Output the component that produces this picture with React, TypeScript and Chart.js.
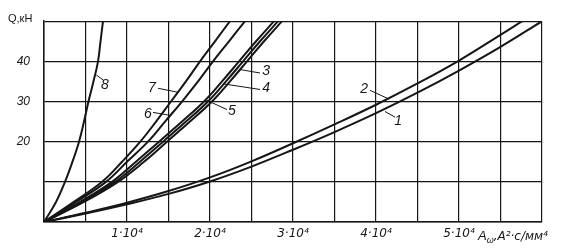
import React, { useEffect, useRef } from 'react';
import { Chart, registerables } from 'chart.js';

Chart.register(...registerables);

// Load levels Q, kN (used for the steep curves 3-8)
const qLevels = [0, 5, 10, 15, 20, 25, 30, 35, 40, 45, 50];
// A values (A^2·c/mm^4) at each Q level
const curve8A = [0, 1450, 2530, 3430, 4220, 4820, 5360, 5960, 6510, 6810, 7110];
const curve7A = [0, 3600, 7000, 9400, 11600, 13500, 15300, 17100, 18800, 20600, 22400];
const curve6A = [0, 3860, 7470, 10000, 12530, 14580, 16630, 18560, 20360, 22290, 24220];
const curve5A = [0, 4340, 8190, 11080, 13860, 16630, 19280, 21450, 23500, 25550, 27710];
const curve4A = [0, 4580, 8560, 11570, 14340, 17110, 19760, 21930, 23980, 26030, 28200];
const curve3A = [0, 4820, 8920, 12050, 14820, 17590, 20240, 22410, 24460, 26510, 28680];

// Curves 1 and 2: Q read at A positions
const curve2A = [0, 5000, 10000, 15000, 20000, 25000, 30000, 35000, 40000, 45000, 50000, 55000, 57600];
const curve2Q = [0, 2.3, 4.8, 7.7, 11.1, 15.1, 19.6, 24.3, 29.2, 34.5, 40.2, 46.6, 50];
const curve1A = [0, 5000, 10000, 15000, 20000, 25000, 30000, 35000, 40000, 45000, 50000, 55000, 60000];
const curve1Q = [0, 2.1, 4.4, 7.0, 10.1, 13.8, 18.0, 22.4, 27.1, 32.2, 37.7, 43.6, 50];

const curveNames = ['8', '7', '6', '5', '4', '3', '2', '1'];

const xTickLabels = ['1·10⁴', '2·10⁴', '3·10⁴', '4·10⁴', '5·10⁴'];
const yTickLabels = ['20', '30', '40'];

// curve number labels with leader lines, in data coordinates
const curveLabelText = ['8', '7', '6', '3', '4', '5', '2', '1'];
const curveLabelAt = [
  [7350, 34.0], [13010, 33.4], [12530, 26.8], [26750, 37.6],
  [26750, 33.3], [22650, 27.5], [38560, 33.0], [42660, 25.1],
];
const leaderFrom = [
  [7110, 35.4], [13740, 33.3], [13130, 27.3], [26030, 37.1],
  [26030, 33.0], [22050, 28.0], [39280, 32.8], [42300, 26.1],
];
const leaderTo = [
  [6300, 36.6], [16150, 32.3], [15060, 26.6], [23500, 38.0],
  [21600, 34.4], [19500, 30.4], [41570, 30.6], [41090, 27.5],
];

function pairs(xs: number[], ys: number[]) {
  return xs.map((x, i) => ({ x, y: ys[i] }));
}

export default function App() {
  const ref = useRef<HTMLCanvasElement | null>(null);

  useEffect(() => {
    if (!ref.current) return;
    const ink = '#161616';
    const steep = [curve8A, curve7A, curve6A, curve5A, curve4A, curve3A];
    const datasets: any[] = steep.map((a, i) => ({
      label: curveNames[i],
      data: pairs(a, qLevels),
    }));
    datasets.push({ label: '2', data: pairs(curve2A, curve2Q) });
    datasets.push({ label: '1', data: pairs(curve1A, curve1Q) });
    datasets.forEach((d) => {
      d.showLine = true;
      d.pointRadius = 0;
      d.borderColor = ink;
      d.borderWidth = 2;
      d.tension = 0.4;
      d.fill = false;
    });

    const textPlugin = {
      id: 'texts',
      afterDraw(chart: any) {
        const ctx = chart.ctx;
        const xs = chart.scales.x;
        const ys = chart.scales.y;
        ctx.save();
        ctx.fillStyle = ink;
        ctx.strokeStyle = ink;
        // axis unit
        ctx.font = '11px "Liberation Sans"';
        ctx.textAlign = 'left';
        ctx.textBaseline = 'middle';
        ctx.fillText('Q,кН', 8, 19);
        // x axis title
        const base = 240;
        let px = xs.getPixelForValue(50000) + 19;
        ctx.textBaseline = 'alphabetic';
        ctx.font = 'italic 13px "Liberation Sans"';
        ctx.fillText('A', px, base);
        px += ctx.measureText('A').width;
        ctx.font = 'italic 9px "Liberation Sans"';
        ctx.fillText('ω', px, base + 3);
        px += ctx.measureText('ω').width;
        ctx.font = 'italic 12px "DejaVu Sans"';
        ctx.fillText(',A²·c/мм⁴', px, base);
        // curve labels
        ctx.lineWidth = 1;
        ctx.font = 'italic 14px "Liberation Sans"';
        ctx.textAlign = 'center';
        ctx.textBaseline = 'middle';
        curveLabelText.forEach((t, i) => {
          ctx.beginPath();
          ctx.moveTo(xs.getPixelForValue(leaderFrom[i][0]), ys.getPixelForValue(leaderFrom[i][1]));
          ctx.lineTo(xs.getPixelForValue(leaderTo[i][0]), ys.getPixelForValue(leaderTo[i][1]));
          ctx.stroke();
          ctx.fillText(t, xs.getPixelForValue(curveLabelAt[i][0]), ys.getPixelForValue(curveLabelAt[i][1]));
        });
        ctx.restore();
      },
    };

    const chart = new Chart(ref.current, {
      type: 'scatter',
      data: { datasets },
      options: {
        animation: false,
        responsive: false,
        devicePixelRatio: 1,
        layout: { padding: { top: 13, right: 23, left: 0, bottom: 0 } },
        plugins: { legend: { display: false }, tooltip: { enabled: false } },
        scales: {
          x: {
            type: 'linear',
            min: 0,
            max: 60000,
            afterFit: (s: any) => { s.height = 27; },
            grid: { color: ink, lineWidth: 1.2, drawTicks: false },
            border: { color: ink, width: 1.5 },
            ticks: {
              stepSize: 5000,
              padding: 5,
              maxRotation: 0,
              autoSkip: false,
              color: ink,
              font: { family: '"DejaVu Sans"', size: 12, style: 'italic' },
              callback: (v: any) => {
                const n = Number(v);
                if (n > 0 && n < 60000 && n % 10000 === 0) return xTickLabels[n / 10000 - 1];
                return '';
              },
            },
          },
          y: {
            type: 'linear',
            min: 0,
            max: 50,
            afterFit: (s: any) => { s.width = 44; },
            grid: { color: ink, lineWidth: 1.2, drawTicks: false },
            border: { color: ink, width: 1.5 },
            ticks: {
              stepSize: 10,
              padding: 14,
              autoSkip: false,
              color: ink,
              font: { family: '"Liberation Sans"', size: 12, style: 'italic' },
              callback: (v: any) => {
                const s = String(v);
                return yTickLabels.includes(s) ? s : '';
              },
            },
          },
        },
      },
      plugins: [textPlugin],
    });
    return () => chart.destroy();
  }, []);

  return (
    <div style={{ position: 'fixed', left: 0, top: 0, width: 565, height: 249, background: '#fff' }}>
      <canvas ref={ref} width={565} height={249} style={{ width: 565, height: 249, display: 'block' }} />
    </div>
  );
}
